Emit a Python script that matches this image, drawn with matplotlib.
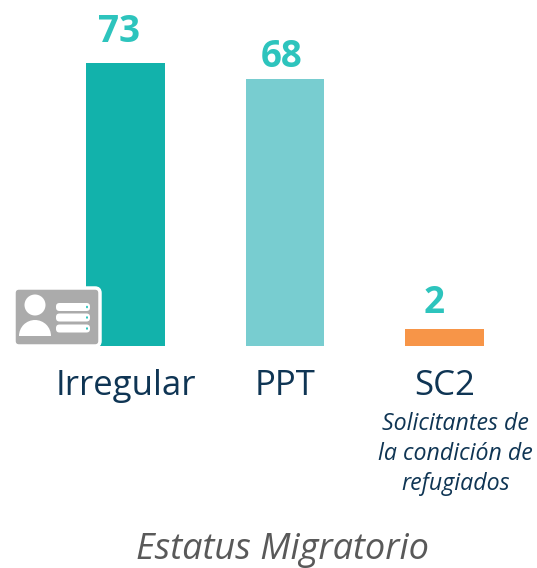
#!/usr/bin/env python3
import matplotlib
matplotlib.use("Agg")
import matplotlib.pyplot as plt
from matplotlib.patches import Circle, FancyBboxPatch, Wedge, Ellipse

plt.rcParams["font.family"] = ["Open Sans", "DejaVu Sans"]

categories = ["Irregular", "PPT", "SC2"]
# Bar heights; the printed labels are not quite to scale
bar_heights = [73, 68.9, 4.4]
value_labels = ["73", "68", "2"]
bar_colors = ["#12B2AB", "#78CDD0", "#F79548"]
sub_label = "Solicitantes de\nla condición de\nrefugiados"
axis_title = "Estatus Migratorio"

W, H = 537, 568
fig = plt.figure(figsize=(W / 100, H / 100), dpi=100)

# Main axes: baseline at y=346 px, top at y=63 px
ax = fig.add_axes([0, (H - 346) / H, 1, 283 / H])
ax.set_xlim(-125.5 / 159.5, (W - 125.5) / 159.5)
ax.set_ylim(0, 73)
ax.bar(range(3), bar_heights, width=0.495, color=bar_colors)
# the labels sit off-centre and at uneven heights in the original
label_offsets = [(-4.7, 22), (-2.5, 16), (-7.5, 19)]
for i, label in enumerate(value_labels):
    ax.annotate(label, (i, bar_heights[i]), xytext=label_offsets[i],
                textcoords="offset points", ha="center", va="center",
                fontsize=26.5, fontweight="bold", color="#2DC4BD")
ax.set_xticks(range(3), categories, fontsize=25, color="#0F3554")
ax.tick_params(axis="x", length=0, pad=16.5)
ax.set_yticks([])
ax.patch.set_alpha(0)
for side in ax.spines.values():
    side.set_visible(False)

# Overlay in pixel coordinates for the notes and the icon
over = fig.add_axes([0, 0, 1, 1])
over.set_xlim(0, W)
over.set_ylim(H, 0)
over.axis("off")
over.patch.set_alpha(0)

over.text(455.5, 454, sub_label, ha="center", va="center", fontsize=16.7,
          style="italic", color="#0F3554", linespacing=1.33)
over.text(282, 549.5, axis_title, ha="center", va="center", fontsize=26,
          style="italic", color="#595959")

# ID card icon
over.add_patch(FancyBboxPatch((16, 290), 82, 54, boxstyle="round,pad=2,rounding_size=5",
                              fc="#ABABAB", ec="white", lw=2.5))
over.add_patch(Circle((35, 305), 10.5, fc="white", ec="none"))
over.add_patch(Wedge((35, 336), 16, 180, 360, fc="white", ec="none"))
for y in [307, 317.5, 328.5]:
    over.add_patch(FancyBboxPatch((58, y - 2), 30, 4, boxstyle="round,pad=2,rounding_size=3.5",
                                  fc="white", ec="none"))
    over.add_patch(Ellipse((87, y), 2, 2.5, fc="#2DC4BD", ec="none"))

fig.savefig("out.png", dpi=100)
